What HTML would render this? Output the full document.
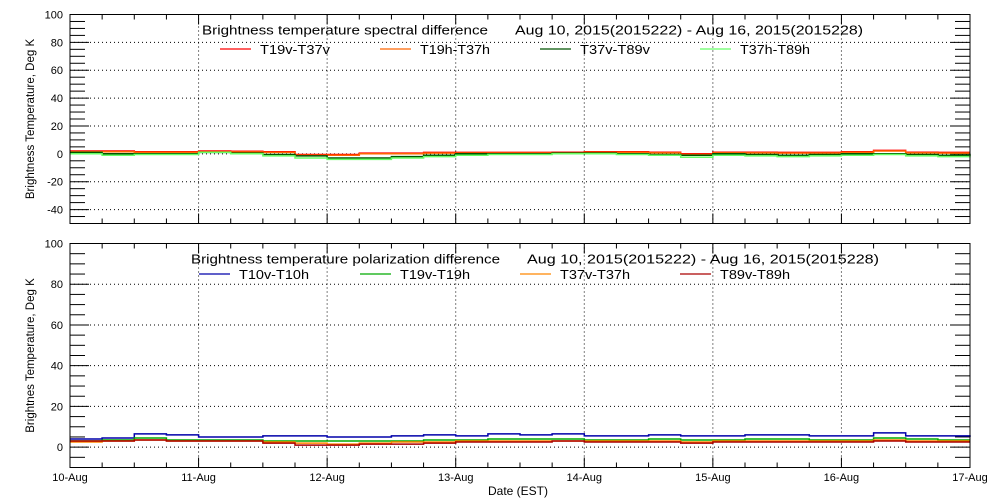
<!DOCTYPE html>
<html><head><meta charset="utf-8"><style>
html,body{margin:0;padding:0;background:#fff;}
svg{display:block;font-family:"Liberation Sans",sans-serif;}
</style></head><body>
<svg id="c" width="1000" height="500"></svg>
<script>
const dayLabels=["10-Aug","11-Aug","12-Aug","13-Aug","14-Aug","15-Aug","16-Aug","17-Aug"];
const topTicks=[100,80,60,40,20,0,-20,-40];
const botTicks=[100,80,60,40,20,0];
const topNames=["T19v-T37v","T19h-T37h","T37v-T89v","T37h-T89h"];
const topColors=["#ff0000","#ff6600","#005500","#66ff66"];
const botNames=["T10v-T10h","T19v-T19h","T37v-T37h","T89v-T89h"];
const botColors=["#0000aa","#00aa00","#ff8800","#aa0000"];
// values every 6 hours starting 10-Aug 00:00
const s19v37v=[2,2,1.5,1.5, 2,1.8,1.5,-0.5, -0.5,0.5,0.5,1, 1,1,1,1.2, 1.5,1.5,1.2,0, 1.2,1.2,1,1, 1.5,2.5,1.2,1, 1];
const s19h37h=[1.5,1.5,1,1, 1.5,1.3,1,-1, -1,0,0,0.5, 0.5,0.5,0.5,0.7, 1,1,0.7,-0.5, 0.7,0.7,0.5,0.5, 1,2,0.7,0.5, 0.5];
const s37v89v=[1,0,0,0, 1,0.5,-0.5,-1.5, -3,-3,-2,-1, 0,0,0,0.5, 0.5,0,-0.5,-1, 0,-0.5,-1,-0.5, 0,0,-0.5,-1, 0];
const s37h89h=[0,-1,-0.5,-0.5, 1,0,-1.5,-3, -4,-4,-3,-2, -1,-0.5,-0.5,0, 0,-0.5,-1,-2.5, -1,-1.5,-2,-1.5, -1,-0.5,-1.5,-2, -1];
const p10=[4,4.5,6.5,6, 5,5,5.5,5.5, 5,5,5.5,6, 5.5,6.5,6,6.5, 5.5,5.5,6,5.5, 5.5,6,6,5.5, 5.5,7,5.5,5.5, 5];
const p19=[3,3.5,4.5,3.5, 3.5,3.5,3,3, 3,3,3,3.5, 3.5,4,4,4, 3.5,3.5,4,3.5, 3.5,4,4,3.5, 3.5,4.5,4,3.5, 3.5];
const p37=[2.5,3,3.5,3, 3,3,2.5,2, 1.5,2,2.5,2.5, 3,3,3,3, 3,3,3,2.5, 3,3,3,3, 3,3.5,3,3, 3];
const p89=[3,3,3.5,3, 3,3,2,1, 1,1.5,1.5,2, 2.5,2.5,2.5,3, 2.5,2.5,2.5,2, 2.5,2.5,2.5,2.5, 2.5,3,2.5,2.5, 2.5];

const svg=document.getElementById('c');const NS='http://www.w3.org/2000/svg';
function el(t,a,p){const e=document.createElementNS(NS,t);for(const k in a)e.setAttribute(k,a[k]);(p||svg).appendChild(e);return e;}
const X0=70,X1=970;
const xs=d=>X0+(X1-X0)*d/7;
function panel(name,top,bottom,ymin,ymax,ticks,titleA,tAx,tAw,tBx,tBw,names,colors,series,ylabel,lx,lw,lt,ly){
  const g=el('g',{});
  
  
  const ys=v=>bottom-(v-ymin)/(ymax-ymin)*(bottom-top);
  ticks.forEach(v=>{if(v<ymax&&v>ymin){const l=el('line',{x1:X0,x2:X1,y1:ys(v),y2:ys(v),stroke:'#000','stroke-dasharray':'1,3','stroke-width':1},g);}});
  for(let d=1;d<7;d++){const l=el('line',{x1:xs(d),x2:xs(d),y1:top,y2:bottom,stroke:'#000','stroke-dasharray':'1,3'},g);}
  for(let v=ymin;v<=ymax;v+=5){const major=ticks.includes(v);const len=major?19:15;
    el('line',{x1:X0,x2:X0+len,y1:ys(v),y2:ys(v),stroke:'#000'},g);
    el('line',{x1:X1,x2:X1-len,y1:ys(v),y2:ys(v),stroke:'#000'},g);}
  ticks.forEach(v=>{const t=el('text',{x:63,y:ys(v)+4,'text-anchor':'end','font-size':11},g);t.textContent=v;});
  for(let q=0;q<=28;q++){const len=q%4==0?10:5;
    el('line',{x1:xs(q/4),x2:xs(q/4),y1:top,y2:top+len,stroke:'#000'},g);
    el('line',{x1:xs(q/4),x2:xs(q/4),y1:bottom,y2:bottom-len,stroke:'#000'},g);}
  series.forEach((s,i)=>{let d='';s.forEach((v,j)=>{const x=xs(j/4),y=ys(v);d+=(j==0?'M':'L')+x.toFixed(1)+','+y.toFixed(1)+(j<s.length-1?' H'+xs((j+1)/4).toFixed(1):'');});
    const p=el('path',{d:d,fill:'none',stroke:colors[i],'stroke-width':1.5},g);});
  el('rect',{x:X0,y:top,width:X1-X0,height:bottom-top,fill:'none',stroke:'#000'},g);
  const ta=el('text',{x:tAx,y:top+20,'font-size':12.5,textLength:tAw,lengthAdjust:'spacingAndGlyphs'},g);ta.textContent=titleA;
  const tb=el('text',{x:tBx,y:top+20,'font-size':12.5,textLength:tBw,lengthAdjust:'spacingAndGlyphs'},g);tb.textContent='Aug 10, 2015(2015222) - Aug 16, 2015(2015228)';
  names.forEach((n,i)=>{const lg=el('g',{},g);
    el('line',{x1:lx[i],x2:lx[i]+lw,y1:ly,y2:ly,stroke:colors[i],'stroke-width':1.2},lg);
    const t=el('text',{x:lx[i]+lt,y:ly+5,'font-size':12.5,textLength:70,lengthAdjust:'spacingAndGlyphs'},lg);t.textContent=n;});
  const yl=el('text',{x:0,y:0,transform:`translate(34,${(top+bottom)/2}) rotate(-90)`,'text-anchor':'middle','font-size':11.5},g);yl.textContent=ylabel;
}
panel('spectral-difference-panel',14.5,223.5,-50,100,topTicks,'Brightness temperature spectral difference',202,286,515,348,topNames,topColors,[s19v37v,s19h37h,s37v89v,s37h89h],'Brightness Temperature, Deg K',[220,380,540,700],31,40,49);
panel('polarization-difference-panel',243.5,467.5,-10,100,botTicks,'Brightness temperature polarization difference',191,309,527,352,botNames,botColors,[p10,p19,p37,p89],'Brightnes Temperature, Deg K',[199,360,520,680],31,40,274);
dayLabels.forEach((l,i)=>{const t=el('text',{x:xs(i),y:481,'text-anchor':'middle','font-size':11});t.textContent=l;});
const xt=el('text',{x:518,y:495,'text-anchor':'middle','font-size':12});xt.textContent='Date (EST)';


</script>
</body></html>
